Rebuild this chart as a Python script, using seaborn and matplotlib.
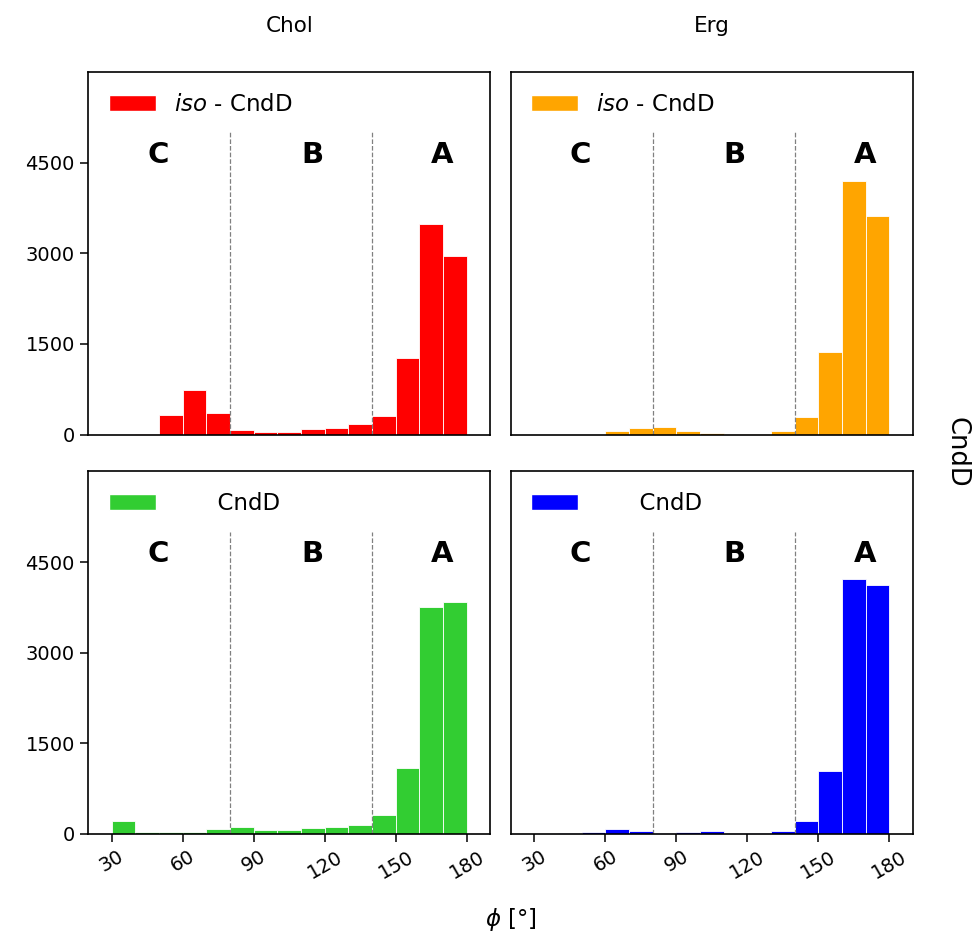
import numpy as np
import pandas as pd
import matplotlib
matplotlib.use("Agg")
import matplotlib.pyplot as plt
import seaborn as sns
from matplotlib.patches import Patch

# Dados (contagens por bin de 10 graus, de 30 a 180)
phi_edges = list(range(30, 190, 10))
phi_centers = [35, 45, 55, 65, 75, 85, 95, 105, 115, 125, 135, 145, 155, 165, 175]

chol_iso = [0, 15, 320, 740, 350, 80, 40, 40, 90, 100, 170, 300, 1260, 3490, 2950]
erg_iso = [0, 0, 0, 60, 110, 120, 50, 25, 5, 5, 50, 290, 1360, 4200, 3610]
chol_wt = [220, 40, 25, 40, 80, 110, 70, 70, 95, 110, 150, 320, 1090, 3755, 3840]
erg_wt = [0, 15, 40, 90, 45, 20, 40, 55, 20, 20, 50, 210, 1040, 4220, 4120]

col_titles = ["Chol", "Erg"]
region_labels = ["C", "B", "A"]
region_x = [45, 110, 165]
region_bounds = [80, 140]

panels = [
    (chol_iso, "red", r"$\it{iso}$ - CndD"),
    (erg_iso, "orange", r"$\it{iso}$ - CndD"),
    (chol_wt, "limegreen", "      CndD"),
    (erg_wt, "blue", "      CndD"),
]

sns.set_style("ticks")
plt.rcParams["font.family"] = ["DejaVu Sans"]
plt.rcParams["axes.edgecolor"] = "black"
plt.rcParams["axes.linewidth"] = 1.2
plt.rcParams["text.color"] = "black"
plt.rcParams["xtick.color"] = "black"
plt.rcParams["ytick.color"] = "black"
plt.rcParams["axes.labelcolor"] = "black"

fig, axes = plt.subplots(2, 2, figsize=(9.73, 9.34), dpi=100, sharex=True, sharey=True)
fig.subplots_adjust(left=0.0904, right=0.9383, bottom=0.1071, top=0.9229,
                    wspace=0.05, hspace=0.102)

for ax, (counts, color, label) in zip(axes.flat, panels):
    df = pd.DataFrame({"phi": phi_centers, "count": counts})
    sns.histplot(data=df, x="phi", weights="count", bins=phi_edges, color=color,
                 alpha=1, edgecolor="white", linewidth=0.6, ax=ax)
    for xb in region_bounds:
        ax.vlines(xb, 0, 5000, colors="gray", linestyles="--", linewidth=0.9)
    for lab, xl in zip(region_labels, region_x):
        ax.text(xl, 4500, lab, fontsize=21, fontweight="bold", ha="left", va="baseline")
    ax.legend(handles=[Patch(facecolor=color, label=label)], loc="upper left",
              frameon=False, fontsize=16.5, handlelength=2.05)
    ax.set_xlim(20, 190)
    ax.set_ylim(0, 6000)
    ax.set_xlabel("")
    ax.set_ylabel("")

axes[0, 0].set_yticks([0, 1500, 3000, 4500])
axes[0, 0].set_xticks([30, 60, 90, 120, 150, 180])

for ax in axes.flat:
    ax.tick_params(axis="both", labelsize=14, length=6, width=1.1)
for ax in axes[1]:
    ax.tick_params(axis="x", rotation=30)
for ax in axes[0]:
    ax.tick_params(axis="x", bottom=False)
for ax in axes[:, 1]:
    ax.tick_params(axis="y", left=False)

for ax, title in zip(axes[0], col_titles):
    ax.set_title(title, fontsize=15.5, pad=29)

fig.text(0.983, 0.5155, "CndD", rotation=270, ha="center", va="center", fontsize=18.5)
fig.text(0.525, 0.016, r"$\phi$ [°]", ha="center", va="center", fontsize=16.5)

fig.savefig("out.png", dpi=100)
